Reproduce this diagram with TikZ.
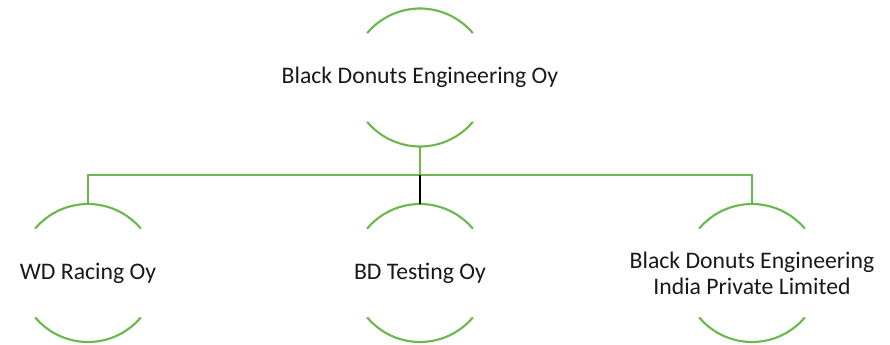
\documentclass[tikz,border=0pt]{standalone}
\usepackage{fontspec}
\setmainfont{Carlito}
\usepackage{xcolor}
\usetikzlibrary{positioning,calc}
\definecolor{orgGreen}{RGB}{108,184,78}
\newcommand{\ringR}{51.75pt}

\begin{document}
\begin{tikzpicture}[
    x=0.75pt, y=0.75pt,
    ring/.style={circle, minimum size=103.5pt, inner sep=0pt, outer sep=0pt},
    orgname/.style={font=\fontsize{17.8}{19.5}\selectfont, text=black!90, align=center, inner sep=0pt},
    arcline/.style={orgGreen, line width=1.6pt},
    link/.style={orgGreen, line width=1.6pt}
]
    \useasboundingbox (0,0) rectangle (890,344);

    % Top: parent company
    \node[ring] (parent) at (420,266.5) {};
    \node[orgname] (parentname) at (parent) {Black Donuts Engineering Oy};

    % Bottom: subsidiaries
    \node[ring] (wd) at (88,71) {};
    \node[orgname] (wdname) at (wd) {WD Racing Oy};
    \node[ring] (bd) at (420,71) {};
    \node[orgname] (bdname) at (bd) {BD Testing Oy};
    \node[ring] (india) at (752,71) {};
    \node[orgname] (indianame) at (india) {Black Donuts Engineering\\India Private Limited};

    % Arcs above and below each name
    \foreach \n in {parent,wd,bd,india} {
        \draw[arcline] (\n.40) arc[start angle=40, end angle=140, radius=\ringR];
        \draw[arcline] (\n.220) arc[start angle=220, end angle=320, radius=\ringR];
    }

    % Connectors
    \coordinate (bus) at (420,169);
    \draw[link] (parent.south) -- (bus);
    \draw[link] (wd.north) |- (bus) -| (india.north);
    \draw[black, line width=1.4pt] (bus) -- (bd.north);

\end{tikzpicture}
\end{document}
